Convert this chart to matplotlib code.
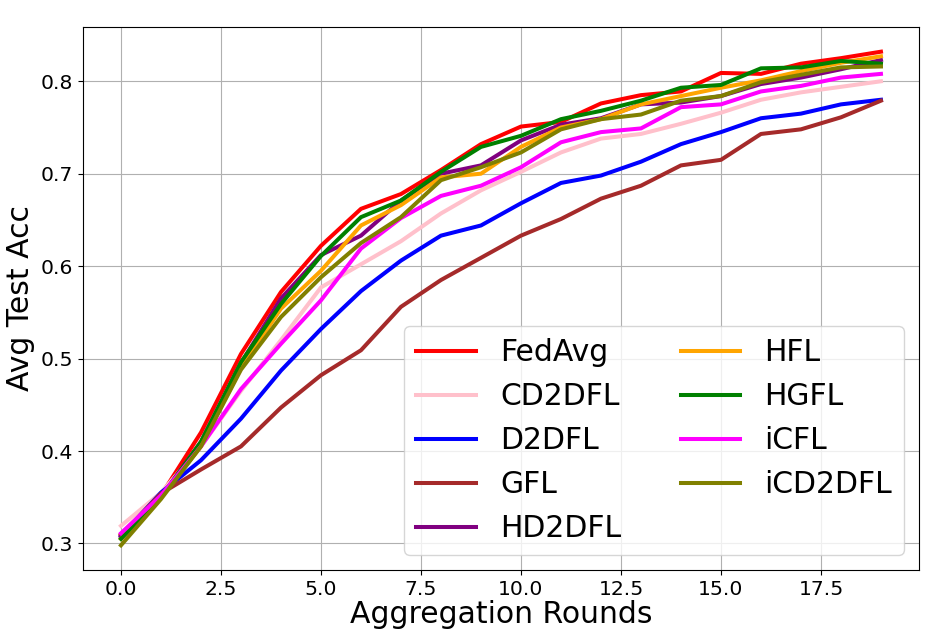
import numpy as np
import matplotlib
matplotlib.use("Agg")
import matplotlib.pyplot as plt

# aggregation rounds 0..19
rounds = list(range(20))

fedavg = [0.310, 0.352, 0.420, 0.505, 0.572, 0.622, 0.662, 0.678, 0.704, 0.732,
          0.751, 0.756, 0.776, 0.785, 0.789, 0.809, 0.808, 0.819, 0.825, 0.832]
cd2dfl = [0.319, 0.355, 0.405, 0.465, 0.520, 0.577, 0.602, 0.627, 0.657, 0.682,
          0.702, 0.723, 0.738, 0.743, 0.754, 0.766, 0.780, 0.788, 0.794, 0.800]
d2dfl = [0.308, 0.355, 0.390, 0.435, 0.487, 0.532, 0.573, 0.606, 0.633, 0.644,
         0.668, 0.690, 0.698, 0.713, 0.732, 0.745, 0.760, 0.765, 0.775, 0.780]
gfl = [0.309, 0.354, 0.380, 0.405, 0.447, 0.482, 0.509, 0.556, 0.585, 0.609,
       0.633, 0.651, 0.673, 0.687, 0.709, 0.715, 0.743, 0.748, 0.761, 0.779]
hd2dfl = [0.307, 0.350, 0.410, 0.495, 0.565, 0.612, 0.633, 0.671, 0.700, 0.709,
          0.736, 0.753, 0.760, 0.775, 0.777, 0.784, 0.797, 0.804, 0.813, 0.823]
hfl = [0.305, 0.350, 0.405, 0.490, 0.554, 0.595, 0.644, 0.666, 0.696, 0.700,
       0.729, 0.750, 0.759, 0.775, 0.784, 0.793, 0.801, 0.811, 0.820, 0.827]
hgfl = [0.305, 0.350, 0.410, 0.496, 0.559, 0.611, 0.653, 0.671, 0.702, 0.729,
        0.741, 0.759, 0.768, 0.779, 0.793, 0.796, 0.814, 0.815, 0.822, 0.819]
icfl = [0.311, 0.352, 0.405, 0.467, 0.516, 0.563, 0.619, 0.652, 0.676, 0.687,
        0.707, 0.734, 0.745, 0.749, 0.772, 0.775, 0.789, 0.795, 0.804, 0.808]
icd2dfl = [0.298, 0.348, 0.405, 0.488, 0.545, 0.588, 0.625, 0.653, 0.693, 0.707,
           0.723, 0.748, 0.759, 0.764, 0.779, 0.784, 0.799, 0.807, 0.815, 0.816]

names = ["FedAvg", "CD2DFL", "D2DFL", "GFL", "HD2DFL", "HFL", "HGFL", "iCFL", "iCD2DFL"]
series = [fedavg, cd2dfl, d2dfl, gfl, hd2dfl, hfl, hgfl, icfl, icd2dfl]
colors = ["red", "pink", "blue", "brown", "purple", "orange", "green", "magenta", "olive"]

fig = plt.figure(figsize=(9.26, 6.37), dpi=100)
ax = fig.add_subplot(111)
fig.subplots_adjust(left=0.0896, right=0.9924, top=0.9576, bottom=0.1052)

for name, vals, c in zip(names, series, colors):
    ax.plot(rounds, vals, color=c, linewidth=2.9, label=name)

ax.grid(True)
ax.set_xlabel("Aggregation Rounds", fontsize=21.5, labelpad=1)
ax.set_ylabel("Avg Test Acc", fontsize=21.5)
ax.tick_params(labelsize=14.7)
ax.legend(loc="lower right", ncol=2, fontsize=21.5)

fig.savefig("out.png", dpi=100)
